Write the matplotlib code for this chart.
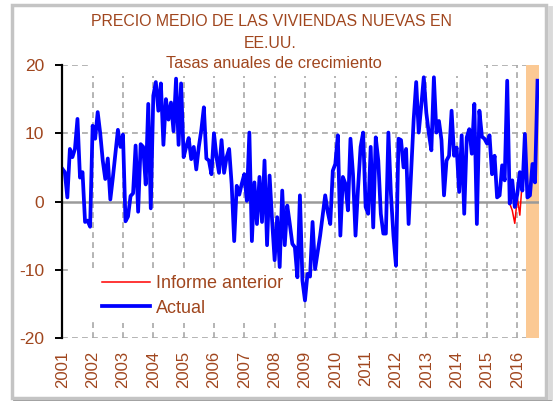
import numpy as np
import matplotlib
matplotlib.use("Agg")
import matplotlib.pyplot as plt
from matplotlib.patches import Rectangle
from matplotlib.lines import Line2D

# ---------------- data (monthly annual growth rates, %) ----------------
years = ["2001", "2002", "2003", "2004", "2005", "2006", "2007", "2008",
         "2009", "2010", "2011", "2012", "2013", "2014", "2015", "2016"]

actual = [
    # 2001
    4.8, 4.3, 0.6, 7.7, 6.5, 7.7, 12.1, 3.5, 4.3, -3.0, -2.8, -3.7,
    # 2002
    11.1, 9.2, 13.1, 10.0, 6.0, 3.3, 6.3, 0.3, 3.5, 7.0, 10.5, 8.0,
    # 2003
    9.8, -2.9, -2.2, 0.8, 1.2, 8.2, -1.5, 8.4, 8.0, 2.5, 14.3, -1.0,
    # 2004
    15.5, 17.5, 13.3, 17.3, 8.3, 15.0, 12.0, 14.5, 10.3, 18.0, 8.3, 17.3,
    # 2005
    6.5, 8.0, 9.3, 6.2, 8.0, 4.7, 8.0, 10.5, 13.8, 6.3, 6.0, 4.0,
    # 2006
    10.0, 6.5, 4.2, 9.0, 4.2, 6.5, 7.7, 2.5, -5.8, 2.3, 1.0, 2.6,
    # 2007
    4.0, 0.1, 10.1, -5.8, 2.8, -3.3, 3.6, -3.0, 6.0, -6.4, 3.8, -2.8,
    # 2008
    -8.6, -2.3, -9.6, 1.6, -6.4, -0.6, -3.3, -6.2, -6.7, -11.1, 0.9, -11.6,
    # 2009
    -14.5, -10.6, -11.0, -3.0, -9.9, -7.5, -5.0, -2.0, 0.9, -1.5, -3.3, 4.5,
    # 2010
    5.5, 9.7, -5.0, 3.6, 2.6, -1.3, 9.2, 4.0, -5.0, 2.0, 8.0, 10.1,
    # 2011
    -0.8, -1.8, 8.0, -3.8, 9.4, 6.0, -1.8, -4.7, -4.7, 10.1, 1.1, -5.0,
    # 2012
    -9.4, 9.2, 9.0, 5.0, 7.7, -3.3, 4.5, 12.0, 17.5, 10.1, 14.0, 18.2,
    # 2013
    13.0, 10.0, 7.5, 18.2, 10.1, 11.8, 9.0, 0.9, 6.0, 6.7, 13.3, 6.7,
    # 2014
    7.9, 1.4, 9.7, -1.8, 9.4, 10.6, 7.0, 14.3, -3.3, 13.3, 9.5, 9.2,
    # 2015
    8.5, 9.7, 4.0, 6.7, 0.6, 0.9, 5.3, 3.1, 17.7, -0.3, 3.1, -0.8,
    # 2016
    1.1, 4.3, 1.6, 9.9, 0.6, 0.9, 5.5, 2.8, 17.7,
]

# previous report: identical history, revised tail from Oct-2015 on
previous_common = 177
previous_tail = [-0.3, -1.3, -3.2, 0.6, -2.0, 3.3, 9.9, 0.6, 0.9, 5.5, 2.8]
previous = actual[:previous_common] + previous_tail

yticks = [-20, -10, 0, 10, 20]
highlight_start = 183.4   # shaded recent period (months since Jan-2001)

# ---------------- style ----------------
BROWN = "#A0461E"
GRID = "#A8A8A8"
FONT = "Liberation Sans"

W, H = 554, 401
fig = plt.figure(figsize=(W / 100, H / 100), dpi=100)
fig.patch.set_facecolor("white")

def px(x0, y0, x1, y1):
    return [x0 / W, 1 - y1 / H, (x1 - x0) / W, (y1 - y0) / H]

ax = fig.add_axes(px(62.3, 65, 539.3, 338))
ax.set_facecolor("white")

x_act = np.arange(len(actual))
x_prev = np.arange(len(previous))
xmax = 188.7

ax.set_xlim(0, xmax)
ax.set_ylim(-20, 20)

# grid
for yv in [-20, -10, 10, 20]:
    ax.axhline(yv, color=GRID, lw=1.2, ls=(0, (3.5, 2.5)), zorder=1)
year_pos = np.arange(len(years)) * 12
for xv in year_pos[1:]:
    ax.axvline(xv, color=GRID, lw=1.2, ls=(0, (3.5, 2.5)), zorder=1)

# shaded band
ax.axvspan(highlight_start, xmax, color="#FBC994", lw=0, zorder=1.5)
# zero line
ax.axhline(0, color="#9A9A9A", lw=1.8, zorder=2)

# white title box covering top grid
ax.add_patch(Rectangle((90 / W, 1 - 76 / H), (484 - 90) / W, 76 / H,
                       transform=fig.transFigure, facecolor="white",
                       edgecolor="none", zorder=1.8, clip_on=False))

ax.plot(x_prev, previous, color="#FF0000", lw=1.1, zorder=3,
        label="Informe anterior")
ax.plot(x_act, actual, color="#0000FF", lw=2.7, zorder=4, label="Actual",
        solid_joinstyle="round")

# spines / ticks
for s in ["top", "right", "bottom"]:
    ax.spines[s].set_visible(False)
ax.spines["left"].set_color("black")
ax.spines["left"].set_linewidth(1.6)
ax.spines["left"].set_zorder(5)
ax.set_yticks(yticks)
ax.set_yticklabels([str(v) for v in yticks], color=BROWN, fontsize=12.5,
                   family=FONT)
ax.tick_params(axis="y", direction="out", length=5, width=1.4,
               color="black", pad=8)
ax.set_xticks(year_pos)
ax.set_xticklabels(years, rotation=90, color=BROWN, fontsize=12, family=FONT)
ax.tick_params(axis="x", length=0, pad=9)

# legend
leg = ax.legend(loc="upper left", bbox_to_anchor=((96 - 62.3) / 477, (338 - 269) / 273),
                frameon=True, fancybox=False, framealpha=1,
                facecolor="white", edgecolor="none", borderaxespad=0,
                borderpad=0.35, handlelength=2.65, handletextpad=0.3,
                labelspacing=0.4,
                prop={"family": FONT, "size": 13})
for t in leg.get_texts():
    t.set_color(BROWN)
leg.set_zorder(6)
# extend white legend background to the left (covers grid as in original)
ax.add_patch(Rectangle((70 / W, 1 - 318 / H), (100 - 70) / W, (318 - 269) / H,
                       transform=fig.transFigure, facecolor="white",
                       edgecolor="none", zorder=5.5, clip_on=False))

# titles
fig.text(271.5 / W, 1 - 21 / H, "PRECIO MEDIO DE LAS VIVIENDAS NUEVAS EN",
         ha="center", va="center", color=BROWN, fontsize=11.4, family=FONT)
fig.text(270 / W, 1 - 43 / H, "EE.UU.", ha="center", va="center",
         color=BROWN, fontsize=11.4, family=FONT)
fig.text(273.5 / W, 1 - 63 / H, "Tasas anuales de crecimiento", ha="center",
         va="center", color=BROWN, fontsize=11.8, family=FONT)

# outer frame
fig.add_artist(Rectangle((12 / W, 1 - 398 / H), (546 - 12) / W, (398 - 5) / H,
                         transform=fig.transFigure, facecolor="none",
                         edgecolor="#C4C4C4", lw=2.5))
fig.add_artist(Line2D([549.5 / W, 549.5 / W], [1 - 400 / H, 1 - 8 / H],
                      transform=fig.transFigure, color="#DADADA", lw=3.5))
fig.add_artist(Line2D([14 / W, 550 / W], [1 - 400.5 / H, 1 - 400.5 / H],
                      transform=fig.transFigure, color="#9A9A9A", lw=2))

fig.savefig("out.png", dpi=100, facecolor="white")
